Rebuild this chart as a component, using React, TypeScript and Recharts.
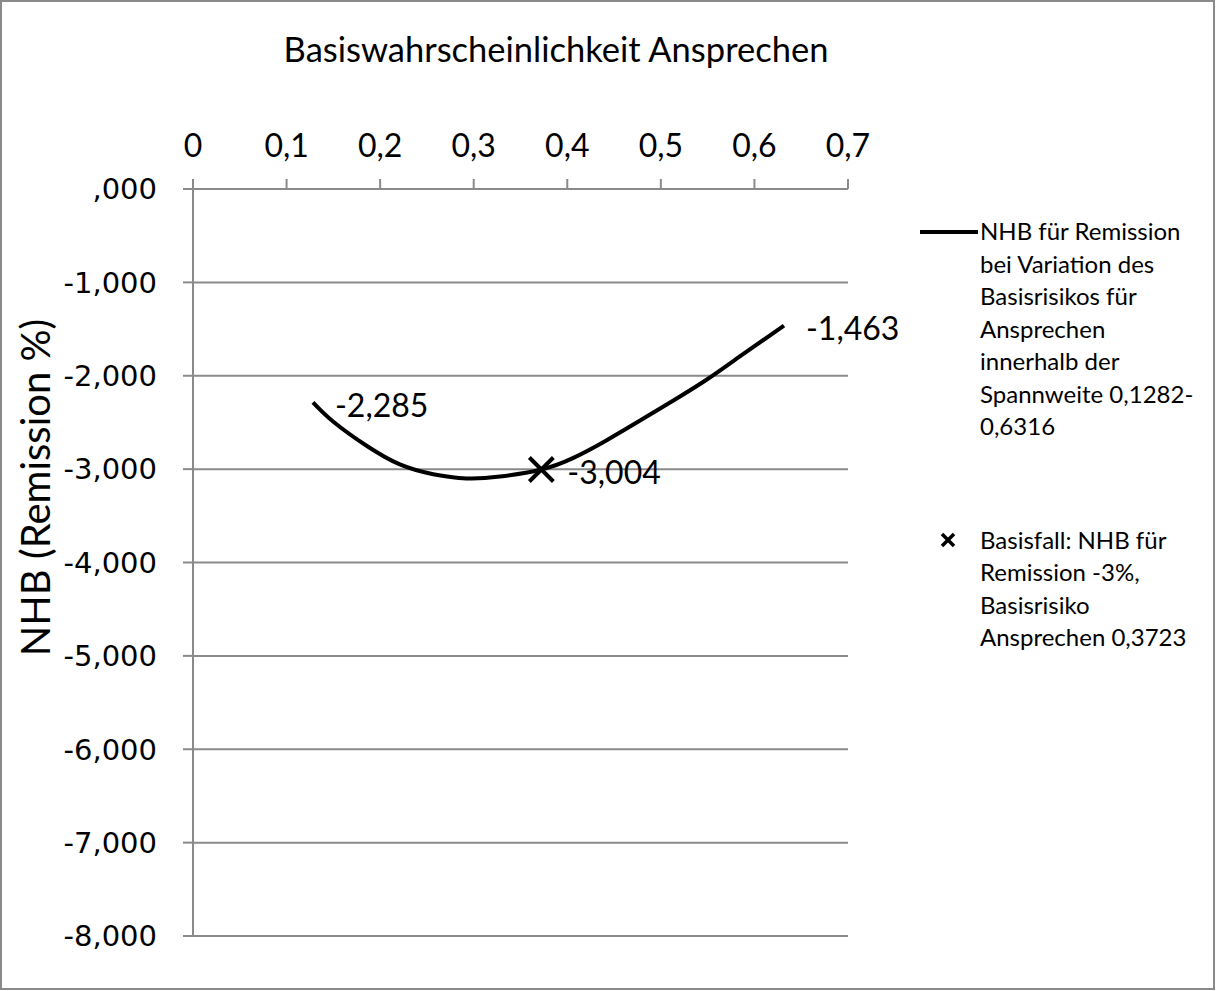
import React from "react"
import {
  ComposedChart,
  Line,
  Scatter,
  XAxis,
  YAxis,
  CartesianGrid,
  Legend,
  LabelList,
  Label
} from "recharts"

// Basisrisiko Ansprechen (x) und NHB Remission (y)
const curveX = [0.1282, 0.1497, 0.1855, 0.2211, 0.2567, 0.2924, 0.3281, 0.3723, 0.4065, 0.4422, 0.4778, 0.5134, 0.5492, 0.5848, 0.6316]
const curveNHB = [-2.285, -2.49, -2.75, -2.95, -3.055, -3.1, -3.08, -3.004, -2.88, -2.69, -2.48, -2.265, -2.04, -1.79, -1.463]

const baseX = [0.3723]
const baseNHB = [-3.004]

const xTicks = [0, 0.1, 0.2, 0.3, 0.4, 0.5, 0.6, 0.7]
const yTicks = [0, -1, -2, -3, -4, -5, -6, -7, -8]

const lineName =
  "NHB für Remission bei Variation des Basisrisikos für Ansprechen innerhalb der Spannweite 0,1282-0,6316"
const pointName = "Basisfall: NHB für Remission -3%, Basisrisiko Ansprechen 0,3723"
const title = "Basiswahrscheinlichkeit Ansprechen"
const yTitle = "NHB (Remission %)"

const curve = curveX.map((x, i) => ({ x, y: curveNHB[i] }))
const base = baseX.map((x, i) => ({ x, y: baseNHB[i] }))

const GRAY = "#8a8a8a"
const FONT = "Lato, 'Open Sans', sans-serif"

const fmtX = (v: number) => String(v).replace(".", ",")
const fmtY = (v: number) => (v === 0 ? ",000" : v.toFixed(3).replace(".", ","))

const Cross = (props: any) => {
  const { cx, cy } = props
  const s = 12
  return (
    <path
      d={`M${cx - s},${cy - s}L${cx + s},${cy + s}M${cx + s},${cy - s}L${cx - s},${cy + s}`}
      stroke="#000"
      strokeWidth={4}
      fill="none"
    />
  )
}

const EndLabel = (props: any) => {
  const { x, y, value, index } = props
  if (index !== 0 && index !== curve.length - 1) return null
  return (
    <text x={x + 22} y={y + 2} dominantBaseline="central" fontFamily={FONT} fontSize={32} fill="#000">
      {fmtY(value)}
    </text>
  )
}

const PointLabel = (props: any) => {
  const { x, y, width, height, value } = props
  const cx = x + (width || 0) / 2
  const cy = y + (height || 0) / 2
  return (
    <text x={cx + 26} y={cy + 2} dominantBaseline="central" fontFamily={FONT} fontSize={32} fill="#000">
      {fmtY(value)}
    </text>
  )
}

// allow a line break after a hyphen between numbers (0,1282-0,6316)
const breakable = (s: string) => {
  const parts = s.split(/(?<=\d-)(?=\d)/)
  return parts.map((p, i) => (
    <React.Fragment key={i}>
      {i > 0 && <wbr />}
      {p}
    </React.Fragment>
  ))
}

const renderLegend = (props: any) => {
  const items = [...(props.payload || [])].sort((a: any, b: any) =>
    a.value === lineName ? -1 : b.value === lineName ? 1 : 0
  )
  return (
    <div style={{ fontFamily: FONT, fontSize: 24, lineHeight: "32.5px", color: "#000" }}>
      {items.map((item: any, i: number) => (
        <div key={i} style={{ display: "flex", marginTop: i === 0 ? 0 : 81 }}>
          <svg width={62} height={32} style={{ flexShrink: 0 }}>
            {item.value === lineName ? (
              <line x1={2} y1={17} x2={60} y2={17} stroke="#000" strokeWidth={4} />
            ) : (
              <path d="M24,10L36,22M36,10L24,22" stroke="#000" strokeWidth={3.5} />
            )}
          </svg>
          <div style={{ width: 224 }}>{breakable(item.value)}</div>
        </div>
      ))}
    </div>
  )
}

export default function App() {
  return (
    <div style={{ position: "absolute", left: 0, top: 0, width: 1216, height: 991, background: "#fff" }}>
      <div
        style={{
          position: "absolute",
          left: 0,
          top: 0,
          width: 1215,
          height: 990,
          boxSizing: "border-box",
          border: `2px solid ${GRAY}`
        }}
      />
      <div
        style={{
          position: "absolute",
          left: 556,
          top: 28,
          transform: "translateX(-50%)",
          whiteSpace: "nowrap",
          fontFamily: FONT,
          fontSize: 34.5,
          color: "#000"
        }}
      >
        {title}
      </div>
      <ComposedChart
        width={1216}
        height={991}
        data={curve}
        margin={{ top: 0, right: 368, bottom: 55, left: 0 }}
      >
        <CartesianGrid vertical={false} stroke={GRAY} strokeWidth={2} />
        <XAxis
          type="number"
          dataKey="x"
          orientation="top"
          domain={[0, 0.7]}
          ticks={xTicks}
          tickFormatter={fmtX}
          height={189}
          tickSize={10}
          tickMargin={22}
          stroke={GRAY}
          strokeWidth={2}
          tick={{ fill: "#000", fontSize: 32, fontFamily: FONT }}
        />
        <YAxis
          type="number"
          dataKey="y"
          domain={[-8, 0]}
          ticks={yTicks}
          tickFormatter={fmtY}
          width={193}
          tickSize={10}
          tickMargin={26}
          stroke={GRAY}
          strokeWidth={2}
          tick={{ fill: "#000", fontSize: 29, fontFamily: "'DejaVu Sans', Verdana, sans-serif" }}
        >
          <Label
            content={(p: any) => {
              const vb = p.viewBox
              const cx = vb.x + 35
              const cy = vb.y + vb.height / 2 - 75
              return (
                <text
                  x={cx}
                  y={cy}
                  transform={`rotate(-90 ${cx} ${cy})`}
                  textAnchor="middle"
                  dominantBaseline="central"
                  fontFamily={FONT}
                  fontSize={40}
                  fill="#000"
                >
                  {yTitle}
                </text>
              )
            }}
          />
        </YAxis>
        <Line
          type="natural"
          dataKey="y"
          name={lineName}
          stroke="#000"
          strokeWidth={4}
          dot={false}
          activeDot={false}
          isAnimationActive={false}
        >
          <LabelList dataKey="y" content={EndLabel} />
        </Line>
        <Scatter
          data={base}
          dataKey="y"
          name={pointName}
          shape={Cross}
          isAnimationActive={false}
        >
          <LabelList dataKey="y" content={PointLabel} />
        </Scatter>
        <Legend
          layout="vertical"
          align="center"
          verticalAlign="middle"
          content={renderLegend}
          wrapperStyle={{ left: 918, top: 215, width: 298 }}
        />
      </ComposedChart>
    </div>
  )
}
